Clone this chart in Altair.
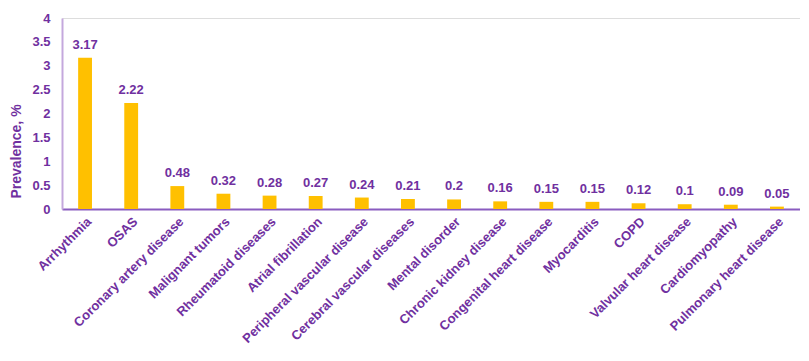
import altair as alt
import pandas as pd

categories = ["Arrhythmia", "OSAS", "Coronary artery disease", "Malignant tumors",
              "Rheumatoid diseases", "Atrial fibrillation", "Peripheral vascular disease",
              "Cerebral vascular diseases", "Mental disorder", "Chronic kidney disease",
              "Congenital heart disease", "Myocarditis", "COPD", "Valvular heart disease",
              "Cardiomyopathy", "Pulmonary heart disease"]
values = [3.17, 2.22, 0.48, 0.32, 0.28, 0.27, 0.24, 0.21, 0.2, 0.16, 0.15, 0.15, 0.12, 0.1, 0.09, 0.05]
labels = ["3.17", "2.22", "0.48", "0.32", "0.28", "0.27", "0.24", "0.21", "0.2", "0.16",
          "0.15", "0.15", "0.12", "0.1", "0.09", "0.05"]
y_ticks = [0, 0.5, 1, 1.5, 2, 2.5, 3, 3.5, 4]

df = pd.DataFrame({"cat": categories, "val": values, "lab": labels})

purple = "#7030A0"
gold = "#FFC000"

x = alt.X("cat:N", sort=categories, title=None,
          scale=alt.Scale(paddingInner=0.7, paddingOuter=0.35),
          axis=alt.Axis(labelAngle=-45, labelAlign="right", labelBaseline="top",
                        labelColor=purple, labelFont="Liberation Sans", labelFontSize=13,
                        labelFontWeight="bold", ticks=False, domainColor="#8A5CC0",
                        domainWidth=2, labelPadding=6, labelLimit=300))
y = alt.Y("val:Q", title="Prevalence, %",
          scale=alt.Scale(domain=[0, 4], nice=False),
          axis=alt.Axis(values=y_ticks, grid=False, ticks=False, labelColor=purple,
                        labelFont="Liberation Sans", labelFontSize=13, labelFontWeight="bold",
                        domainColor="#C4A8DD", domainWidth=2, labelPadding=12,
                        titleColor=purple, titleFont="Liberation Sans", titleFontSize=14,
                        titleFontWeight="bold", titleY=133, titleX=-53,
                        titleAngle=270, titleBaseline="top", labelExpr="datum.value"))

bars = alt.Chart(df).mark_bar(color=gold).encode(x=x, y=y)
text = alt.Chart(df).mark_text(dy=-6, baseline="bottom", color=purple, font="Liberation Sans",
                               fontSize=13, fontWeight="bold").encode(x=x, y=y, text="lab:N")

chart = (bars + text).properties(
    width=738, height=191,
    autosize=alt.AutoSizeParams(type="none"),
    padding={"left": 54, "top": 10, "right": 0, "bottom": 140},
).configure_view(stroke=None).configure(background="white")

chart.save("out.html", embed_options={"renderer": "svg", "actions": False})
